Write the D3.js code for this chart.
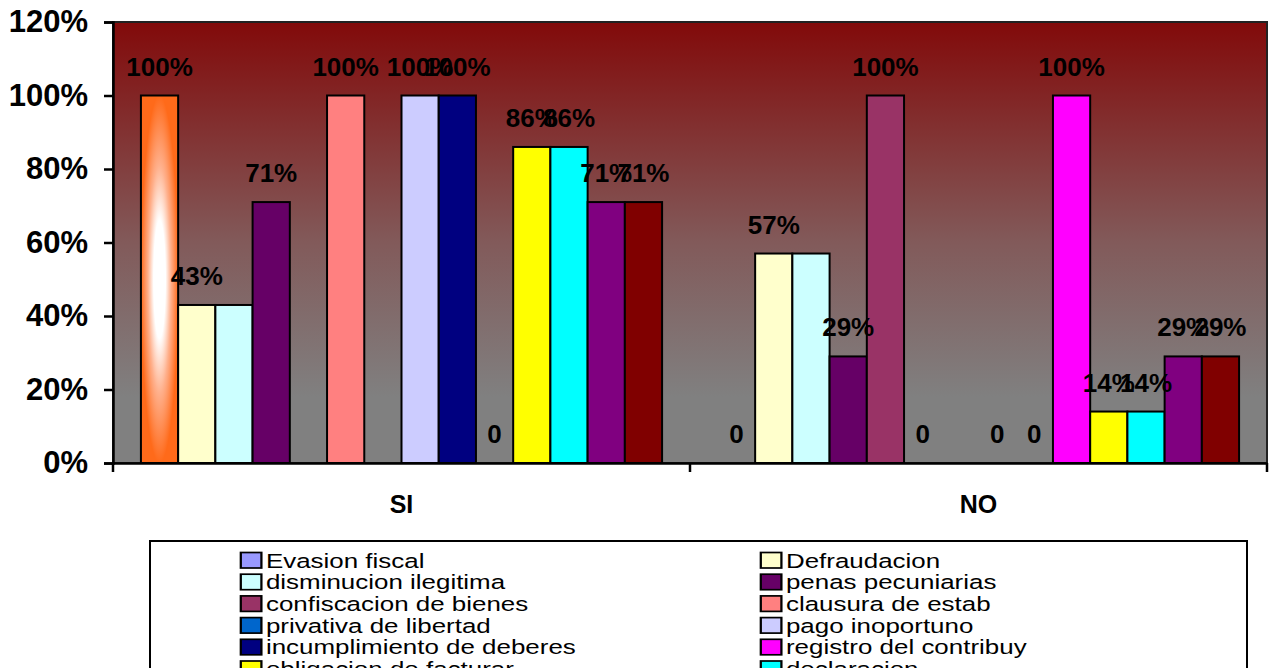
<!DOCTYPE html>
<html>
<head>
<meta charset="utf-8">
<script src="https://cdn.jsdelivr.net/npm/d3@7/dist/d3.min.js"></script>
<style>
  html, body { margin: 0; padding: 0; background: #fff; }
  svg { display: block; font-family: Arial, "Liberation Sans", sans-serif; }
</style>
</head>
<body>
<svg id="chart" width="1279" height="668"></svg>
<script>
// Categories (answers) and the series of sanctions/infractions surveyed
const categories = ["SI", "NO"];
const seriesNames = [
  "Evasion fiscal", "Defraudacion", "disminucion ilegitima", "penas pecuniarias",
  "confiscacion de bienes", "clausura de estab", "privativa de libertad", "pago inoportuno",
  "incumplimiento de deberes", "registro del contribuy", "obligacion de facturar", "declaracion",
  "recargos", "intereses moratorios"
];
const seriesColors = [
  "#9999FF", "#FFFFCC", "#CCFFFF", "#660066", "#993366", "#FF8080", "#0066CC",
  "#CCCCFF", "#000080", "#FF00FF", "#FFFF00", "#00FFFF", "#800080", "#800000"
];
// Percentages per series (null = no data point)
const valuesSI = [100, 43, 43, 71, null, 100, null, 100, 100, 0, 86, 86, 71, 71];
const valuesNO = [0, 57, 57, 29, 100, 0, null, 0, 0, 100, 14, 14, 29, 29];
// Which series carry data labels
const showLabels = [true, true, false, true, true, true, true, true, true, true, true, true, true, true];
const yTicks = [0, 20, 40, 60, 80, 100, 120];

const valuesByCategory = { SI: valuesSI, NO: valuesNO };

const svg = d3.select("#chart");
const plot = { left: 113, top: 22, right: 1267, bottom: 463 };

const defs = svg.append("defs");
const bg = defs.append("linearGradient").attr("id", "plotBg")
  .attr("x1", 0).attr("y1", 0).attr("x2", 0).attr("y2", 1);
bg.append("stop").attr("offset", 0).attr("stop-color", "#820a0a");
bg.append("stop").attr("offset", 0.5).attr("stop-color", "#825a5a");
bg.append("stop").attr("offset", 0.85).attr("stop-color", "#808080");
bg.append("stop").attr("offset", 1).attr("stop-color", "#808080");

// Highlighted bar: orange fading to white toward its centre
const glow = defs.append("radialGradient").attr("id", "orangeGlow")
  .attr("cx", 0.5).attr("cy", 0.5).attr("r", 0.5);
glow.append("stop").attr("offset", 0).attr("stop-color", "#ffffff");
glow.append("stop").attr("offset", 0.32).attr("stop-color", "#ffffff");
glow.append("stop").attr("offset", 0.62).attr("stop-color", "#ffb08c");
glow.append("stop").attr("offset", 1).attr("stop-color", "#ff6a1a");

const y = d3.scaleLinear().domain([0, 120]).range([plot.bottom, plot.top]);
const x0 = d3.scaleBand().domain(categories).range([plot.left, plot.right]).padding(0);
const x1 = d3.scaleBand().domain(d3.range(seriesNames.length))
  .range([0, x0.bandwidth()]).paddingInner(0).paddingOuter(0.75);

// Plot area
svg.append("rect")
  .attr("x", plot.left).attr("y", plot.top)
  .attr("width", plot.right - plot.left).attr("height", plot.bottom - plot.top)
  .attr("fill", "url(#plotBg)")
  .attr("stroke", "#222").attr("stroke-width", 2);

// Bars
const groups = svg.append("g").selectAll("g").data(categories).join("g")
  .attr("transform", d => `translate(${x0(d)},0)`);

groups.selectAll("rect")
  .data(c => valuesByCategory[c].map((v, i) => ({ c, i, v })).filter(d => d.v !== null && d.v > 0))
  .join("rect")
  .attr("x", d => x1(d.i))
  .attr("y", d => y(d.v))
  .attr("width", x1.bandwidth())
  .attr("height", d => y(0) - y(d.v))
  .attr("fill", d => (d.c === "SI" && d.i === 0) ? "url(#orangeGlow)" : seriesColors[d.i])
  .attr("stroke", "#000").attr("stroke-width", 2);

// Data labels
groups.selectAll("text")
  .data(c => valuesByCategory[c].map((v, i) => ({ c, i, v })).filter(d => d.v !== null && showLabels[d.i]))
  .join("text")
  .attr("x", d => x1(d.i) + x1.bandwidth() / 2)
  .attr("y", d => y(d.v) - 20)
  .attr("text-anchor", "middle")
  .attr("font-size", 26).attr("font-weight", "bold").attr("fill", "#000")
  .text(d => d.v === 0 ? "0" : d.v + "%");

// Y axis
const yAxis = d3.axisLeft(y).tickValues(yTicks).tickFormat(d => d + "%").tickSize(9).tickPadding(16);
const yG = svg.append("g").attr("transform", `translate(${plot.left},0)`).call(yAxis);
yG.select(".domain").attr("stroke", "#000").attr("stroke-width", 2.5);
yG.selectAll(".tick line").attr("stroke", "#000").attr("stroke-width", 2.5);
yG.selectAll(".tick text").attr("font-size", 31).attr("font-weight", "bold")
  .attr("fill", "#000").attr("font-family", "Arial, 'Liberation Sans', sans-serif");

// X axis
const xAxis = d3.axisBottom(x0).tickSize(0).tickPadding(32);
const xG = svg.append("g").attr("transform", `translate(0,${plot.bottom})`).call(xAxis);
xG.select(".domain").attr("stroke", "#000").attr("stroke-width", 2.5);
xG.selectAll(".tick text").attr("font-size", 25).attr("font-weight", "bold")
  .attr("fill", "#000").attr("font-family", "Arial, 'Liberation Sans', sans-serif");
// Separator ticks between categories
const sepX = [plot.left, plot.left + x0.bandwidth(), plot.right];
svg.append("g").selectAll("line").data(sepX).join("line")
  .attr("x1", d => d).attr("x2", d => d)
  .attr("y1", plot.bottom).attr("y2", plot.bottom + 9)
  .attr("stroke", "#000").attr("stroke-width", 2.5);

// Legend
const legend = svg.append("g");
legend.append("rect")
  .attr("x", 150).attr("y", 541).attr("width", 1097).attr("height", 200)
  .attr("fill", "#fff").attr("stroke", "#000").attr("stroke-width", 2);

const colX = [240, 760];
const rowTop = 552.5, rowStep = 21.7;
const sx = 1.33;
const items = legend.selectAll("g.item").data(seriesNames).join("g")
  .attr("class", "item")
  .attr("transform", (d, i) => `translate(${colX[i % 2]},${rowTop + Math.floor(i / 2) * rowStep}) scale(${sx},1)`);
items.append("rect")
  .attr("x", 0.6).attr("y", 0).attr("width", 15.5).attr("height", 15.5)
  .attr("fill", (d, i) => seriesColors[i])
  .attr("stroke", "#000").attr("stroke-width", 1.7);
items.append("text")
  .attr("x", 19.5).attr("y", 15)
  .attr("font-size", 19.5).attr("fill", "#000")
  .text(d => d);
</script>
</body>
</html>
